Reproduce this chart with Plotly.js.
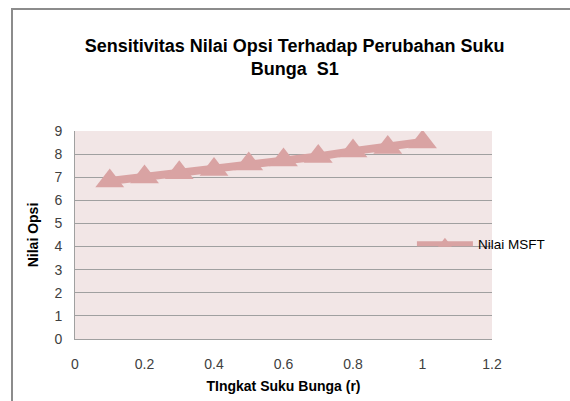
<!DOCTYPE html>
<html>
<head>
<meta charset="utf-8">
<script src="https://cdn.plot.ly/plotly-3.0.1.min.js"></script>
<style>
html,body{margin:0;padding:0;background:#fff;}
#wrap{position:relative;width:570px;height:401px;overflow:hidden;}
#chart{position:absolute;left:0;top:0;width:570px;height:401px;}
#frame{position:absolute;left:11px;top:8px;width:600px;height:450px;border-left:2px solid #8c8c8c;border-top:2px solid #8c8c8c;pointer-events:none;}
</style>
</head>
<body>
<div id="wrap"><div id="chart"></div><div id="frame"></div></div>
<script>
const rates = [0.1, 0.2, 0.3, 0.4, 0.5, 0.6, 0.7, 0.8, 0.9, 1.0];
const nilaiMSFT = [6.84, 7.01, 7.19, 7.33, 7.57, 7.74, 7.90, 8.13, 8.29, 8.52];
const seriesName = 'Nilai MSFT';
const xTicks = [0, 0.2, 0.4, 0.6, 0.8, 1, 1.2];
const yTicks = [0, 1, 2, 3, 4, 5, 6, 7, 8, 9];

const font = 'Liberation Sans, Arial, sans-serif';
const trace = {
  x: rates, y: nilaiMSFT, name: seriesName, type: 'scatter', mode: 'lines+markers',
  line: {color: '#d9a3a3', width: 8},
  marker: {symbol: 'triangle-up', size: 25, color: '#d9a3a3'},
  showlegend: true
};
const layout = {
  width: 570, height: 401,
  margin: {l: 75, r: 78, t: 131, b: 62},
  paper_bgcolor: '#ffffff',
  plot_bgcolor: '#f2e6e6',
  font: {family: font, color: '#404040', size: 14},
  title: {
    text: '<b>Sensitivitas Nilai Opsi Terhadap Perubahan Suku<br>Bunga  S1</b>',
    x: 0.517, xanchor: 'center', y: 0.871, yanchor: 'middle',
    font: {family: font, size: 18, color: '#000000'}
  },
  xaxis: {
    range: [0, 1.2], tickvals: xTicks, ticktext: xTicks.map(String),
    showgrid: false, zeroline: false, showline: true, linecolor: '#a0a0a0', linewidth: 1,
    ticks: '', ticklabelstandoff: 12, tickfont: {size: 14, color: '#404040'},
    title: {text: '<b>TIngkat Suku Bunga (r)</b>', font: {size: 14, color: '#000000'}, standoff: 10}
  },
  yaxis: {
    range: [0, 9], tickvals: yTicks, ticktext: yTicks.map(String),
    showgrid: true, gridcolor: '#a0a0a0', gridwidth: 1, zeroline: false,
    showline: true, linecolor: '#a0a0a0', linewidth: 1,
    ticks: '', ticklabelstandoff: 9, tickfont: {size: 14, color: '#404040'},
    title: {text: '<b>Nilai Opsi</b>', font: {size: 14, color: '#000000'}, standoff: 12}
  },
  legend: {
    x: 0.808, xanchor: 'left', y: 0.457, yanchor: 'middle',
    bgcolor: 'rgba(0,0,0,0)', font: {size: 13.5, color: '#000000'},
    itemsizing: 'constant', itemwidth: 56
  },
  showlegend: true
};
Plotly.newPlot('chart', [trace], layout, {displayModeBar: false, staticPlot: true});
</script>
</body>
</html>
